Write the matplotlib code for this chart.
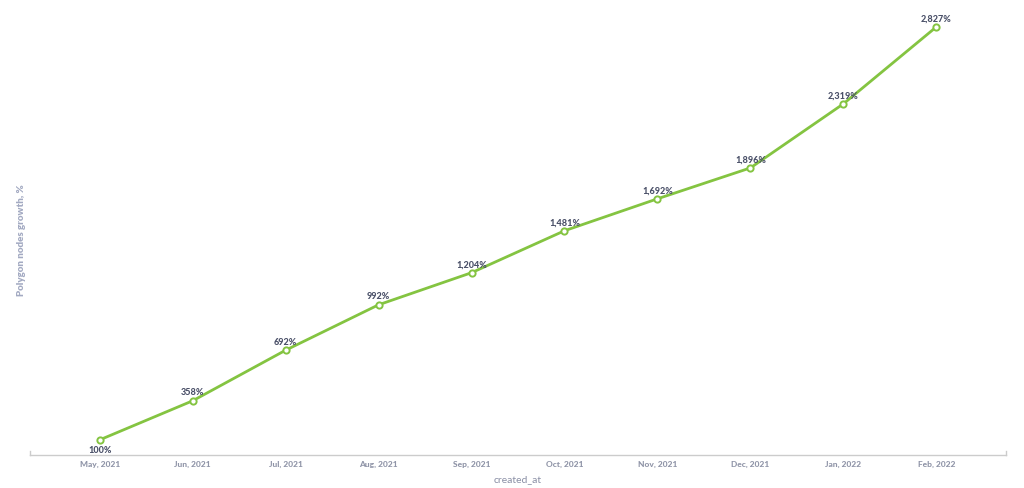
import matplotlib
matplotlib.use("Agg")
import matplotlib.pyplot as plt

categories = ["May, 2021", "Jun, 2021", "Jul, 2021", "Aug, 2021", "Sep, 2021",
              "Oct, 2021", "Nov, 2021", "Dec, 2021", "Jan, 2022", "Feb, 2022"]
growth = [100, 358, 692, 992, 1204, 1481, 1692, 1896, 2319, 2827]

plt.rcParams['font.family'] = ['Lato', 'DejaVu Sans']

fig = plt.figure(figsize=(10.24, 4.88), dpi=100)
ax = fig.add_axes([30/1024, 1 - 455/488, 976/1024, 455/488])

x = list(range(len(categories)))
green = "#84c441"
ax.plot(x, growth, color=green, lw=2, marker="o", ms=4.5,
        mfc="white", mec=green, mew=1.4, zorder=3)

for i, v in enumerate(growth):
    lab = f"{v:,}%"
    if i == 0:
        ax.annotate(lab, (i, v), xytext=(0, -4.5), textcoords="offset points",
                    ha="center", va="top", fontsize=6.5, fontweight=900, color="#4a5068")
    else:
        ax.annotate(lab, (i, v), xytext=(0, 2.5), textcoords="offset points",
                    ha="center", va="bottom", fontsize=6.5, fontweight=900, color="#4a5068")

ax.set_xlim(-0.75, 9.75)
ax.set_ylim(0, 3005)
ax.set_xticks(x)
ax.set_xticklabels(categories, fontsize=6, fontweight=900, color="#9095a8")
ax.tick_params(axis="x", length=0, pad=4)
ax.set_yticks([])
for s in ["top", "right", "left"]:
    ax.spines[s].set_visible(False)
ax.spines["bottom"].set_color("#cccccc")
ax.spines["bottom"].set_linewidth(1)
for xe in (-0.75, 9.75):
    ax.plot([xe, xe], [0, 25], color="#cccccc", lw=1, clip_on=False)

fig.text(518/1024, 1 - 480/488, "created_at", ha="center", va="center",
         fontsize=7.5, color="#8a8fa5")
fig.text(22/1024, 1 - 240/488, "Polygon nodes growth, %", rotation=90,
         ha="center", va="center", fontsize=7, fontweight=800, color="#a3aac2")

fig.savefig("out.png", dpi=100, facecolor="white")
